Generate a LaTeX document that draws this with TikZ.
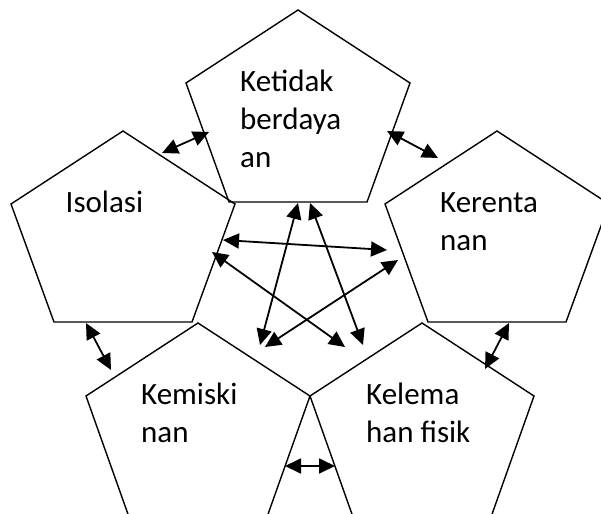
\documentclass[tikz,border=0pt]{standalone}
\usepackage{fontspec}
\setmainfont{Carlito}
\usetikzlibrary{arrows.meta}
\tikzset{
  pentline/.style={draw=black, line width=1.4pt, line join=miter},
  conn/.style={line width=1.8pt, >={Triangle[length=16pt,width=15pt]}, <->},
  lbl/.style={anchor=base west, inner sep=0pt, font=\fontsize{31}{38}\selectfont},
}
\newcommand\mypent[4]{%
  \coordinate (#1-t) at ({#2+112},{#3});
  \coordinate (#1-r) at ({#2+224},{#3+73});
  \coordinate (#1-br) at ({#2+181},{#3+#4});
  \coordinate (#1-bl) at ({#2+43},{#3+#4});
  \coordinate (#1-l) at ({#2},{#3+73});
  \draw[pentline] (#1-t) -- (#1-r) -- (#1-br) -- (#1-bl) -- (#1-l) -- cycle;
}
\begin{document}
\begin{tikzpicture}[x=1pt,y=-1pt]
\useasboundingbox (0,0) rectangle (601,513);
\clip (0,0) rectangle (601,513);
\fill[white] (0,0) rectangle (601,513);
% pentagons
\mypent{top}{186}{10}{192}
\mypent{iso}{11}{131}{191}
\mypent{ker}{385}{131}{191}
\mypent{kem}{86}{323}{194}
\mypent{kel}{310}{323}{194}
% labels
\node[lbl] (ttop) at (240,92) {\begin{tabular}[t]{@{}l@{}}Ketidak\\berdaya\\an\end{tabular}};
\node[lbl] (tiso) at (65.5,212) {Isolasi};
\node[lbl] (tker) at (440,212) {\begin{tabular}[t]{@{}l@{}}Kerenta\\nan\end{tabular}};
\node[lbl] (tkem) at (141,404) {\begin{tabular}[t]{@{}l@{}}Kemiski\\nan\end{tabular}};
\node[lbl] (tkel) at (366,404) {\begin{tabular}[t]{@{}l@{}}Kelema\\han fisik\end{tabular}};
% arrow end points
\coordinate (a1) at (162,153); \coordinate (b1) at (209,132);
\coordinate (a2) at (387,131); \coordinate (b2) at (438,158);
\coordinate (a3) at (86,323);  \coordinate (b3) at (111,370);
\coordinate (a4) at (509,323); \coordinate (b4) at (485,369);
\coordinate (a5) at (285,466); \coordinate (b5) at (335,466);
\coordinate (ca1) at (298,203); \coordinate (cb1) at (260,345);
\coordinate (ca2) at (310,203); \coordinate (cb2) at (363,345);
\coordinate (ca3) at (223,240); \coordinate (cb3) at (387,250);
\coordinate (ca4) at (212,252); \coordinate (cb4) at (345,347);
\coordinate (ca5) at (398,260); \coordinate (cb5) at (265,347);
% connectors
\draw[conn] (a1) -- (b1);
\draw[conn] (a2) -- (b2);
\draw[conn] (a3) -- (b3);
\draw[conn] (a4) -- (b4);
\draw[conn] (a5) -- (b5);
\draw[conn] (ca1) -- (cb1);
\draw[conn] (ca2) -- (cb2);
\draw[conn] (ca3) -- (cb3);
\draw[conn] (ca4) -- (cb4);
\draw[conn] (ca5) -- (cb5);
\end{tikzpicture}
\end{document}
